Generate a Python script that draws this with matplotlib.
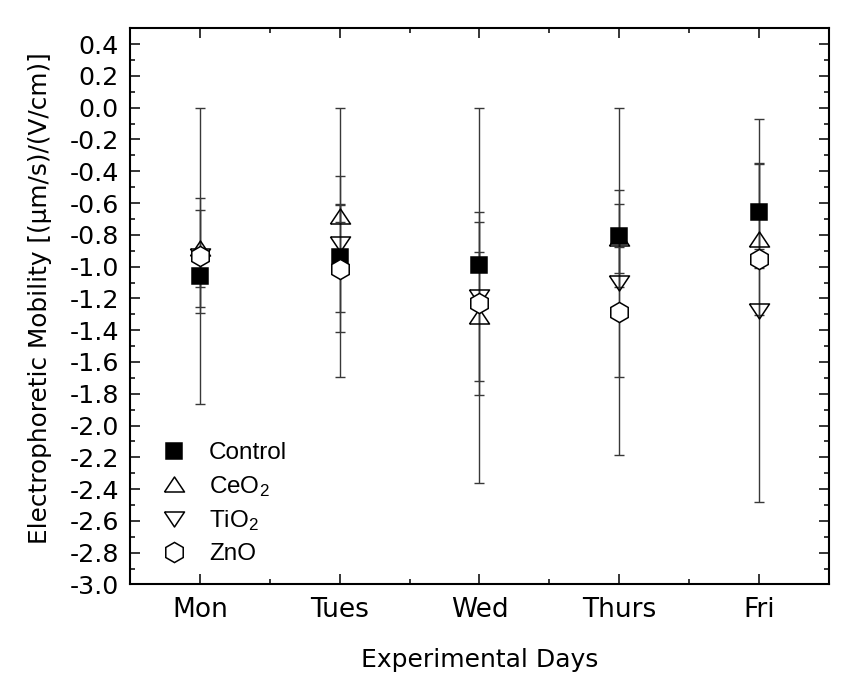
import matplotlib
matplotlib.use('Agg')
import matplotlib.pyplot as plt
from matplotlib.lines import Line2D
from matplotlib.ticker import FixedLocator, MultipleLocator

plt.rcParams['font.family'] = ['Liberation Sans', 'DejaVu Sans']
plt.rcParams['mathtext.fontset'] = 'custom'
plt.rcParams['mathtext.rm'] = 'Liberation Sans'
plt.rcParams['mathtext.it'] = 'Liberation Sans:italic'
plt.rcParams['axes.unicode_minus'] = False

# ---------------- data ----------------
days = ['Mon', 'Tues', 'Wed', 'Thurs', 'Fri']
series_names = ['Control', 'CeO$_2$', 'TiO$_2$', 'ZnO']

control = [-1.06, -0.94, -0.99, -0.81, -0.655]
control_err_lo = [0.197, 0.474, 0.04, 0.317, 0.31]
control_err_hi = [0.15, 0.509, 0.079, 0.29, 0.30]

ceo2 = [-0.88, -0.68, -1.31, -0.82, -0.825]
ceo2_err_lo = [0.247, 0.04, 0.50, 0.22, 0.48]
ceo2_err_hi = [0.235, 0.07, 0.59, 0.215, 0.475]

tio2 = [-0.93, -0.857, -1.19, -1.10, -1.28]
tio2_err_lo = [0.364, 0.838, 1.17, 1.087, 1.20]
tio2_err_hi = [0.363, 0.857, 1.19, 1.10, 1.208]

zno = [-0.935, -1.012, -1.23, -1.284, -0.95]
zno_err_lo = [0.932, 0.274, 0.49, 0.409, 0.06]
zno_err_hi = [0.935, 0.403, 0.575, 0.41, 0.06]

ytick_vals = [-3.0, -2.8, -2.6, -2.4, -2.2, -2.0, -1.8, -1.6, -1.4, -1.2,
              -1.0, -0.8, -0.6, -0.4, -0.2, 0.0, 0.2, 0.4]
ytick_labels = ['-3.0', '-2.8', '-2.6', '-2.4', '-2.2', '-2.0', '-1.8', '-1.6',
                '-1.4', '-1.2', '-1.0', '-0.8', '-0.6', '-0.4', '-0.2', '0.0',
                '0.2', '0.4']

# ---------------- styles ----------------
tri_up = [(-1, -0.75), (1, -0.75), (0, 0.75), (-1, -0.75)]
tri_dn = [(-1, 0.75), (1, 0.75), (0, -0.75), (-1, 0.75)]
styles = [
    dict(marker='s', ms=11.3, mfc='black', mec='black'),
    dict(marker=tri_up, ms=14.4, mfc='none', mec='black'),
    dict(marker=tri_dn, ms=14.4, mfc='none', mec='black'),
    dict(marker='h', ms=14.5, mfc='white', mec='black'),
]
wide_font = ['DejaVu Sans']

fig = plt.figure(figsize=(8.43, 6.84), dpi=100)
ax = fig.add_axes([0.1542, 0.1455, 0.8292, 0.8132])

x = list(range(1, len(days) + 1))
vals = [control, ceo2, tio2, zno]
errs = [(control_err_lo, control_err_hi), (ceo2_err_lo, ceo2_err_hi),
        (tio2_err_lo, tio2_err_hi), (zno_err_lo, zno_err_hi)]

for v, (lo, hi) in zip(vals, errs):
    ax.errorbar(x, v, yerr=[lo, hi], fmt='none', ecolor='#383838',
                elinewidth=1.0, capsize=3.8, capthick=1.0, zorder=2)

for i, (v, st) in enumerate(zip(vals, styles)):
    ax.plot(x, v, linestyle='none', mew=1.1, zorder=3 + i, **st)

ax.set_xlim(0.5, 5.5)
ax.set_ylim(-3.0, 0.5)
ax.xaxis.set_major_locator(FixedLocator(x))
ax.set_xticklabels(days, family=wide_font, fontsize=19)
ax.xaxis.set_minor_locator(MultipleLocator(0.5))
ax.yaxis.set_major_locator(FixedLocator(ytick_vals))
ax.set_yticklabels(ytick_labels, family=wide_font, fontsize=18.3)
ax.yaxis.set_minor_locator(MultipleLocator(0.1))

ax.tick_params(which='both', direction='in', top=True, right=True,
               width=1.1, color='black')
ax.tick_params(which='major', length=7)
ax.tick_params(which='minor', length=3.8)
ax.tick_params(axis='x', which='major', pad=9)
ax.tick_params(axis='y', which='major', pad=8)
for sp in ax.spines.values():
    sp.set_linewidth(1.5)

ax.set_xlabel('Experimental Days', fontsize=18, family=wide_font, labelpad=18)
ax.set_ylabel('Electrophoretic Mobility [(\u03bcm/s)/(V/cm)]', fontsize=17.8,
              family=wide_font)
ax.yaxis.set_label_coords(-0.112, 0.515)

handles = [Line2D([], [], linestyle='none', mew=1.1, **st) for st in styles]
ax.legend(handles, series_names, loc='lower left',
          bbox_to_anchor=(0.045, 0.035), frameon=False, fontsize=17.5,
          handlelength=1.0, handletextpad=0.95, labelspacing=0.4,
          borderpad=0, borderaxespad=0)

fig.savefig('out.png', dpi=100, facecolor='white')
